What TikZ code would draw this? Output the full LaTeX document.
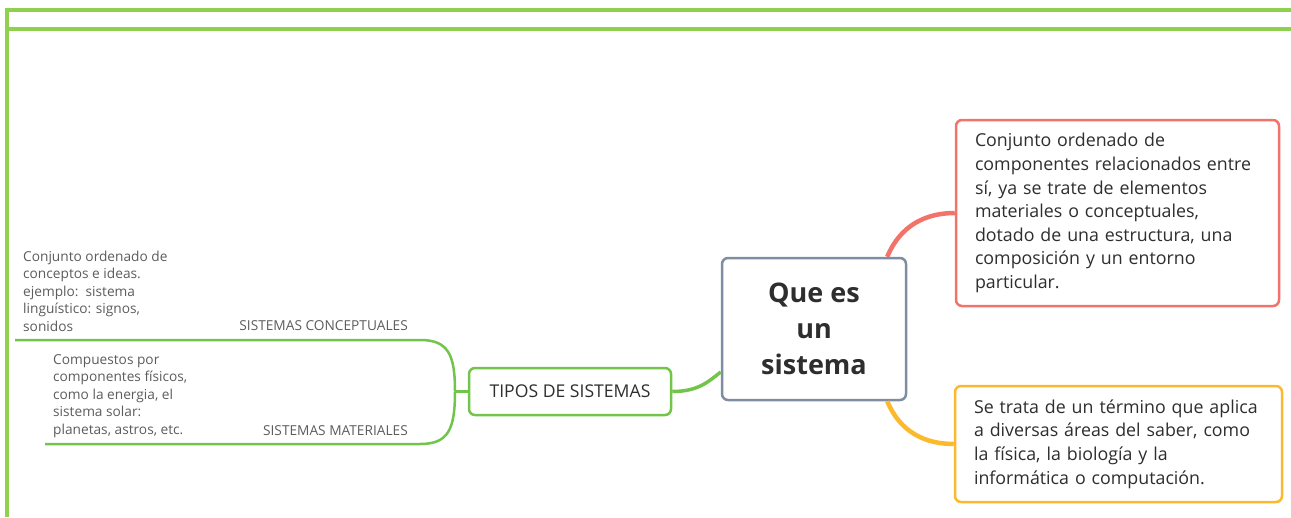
\documentclass[tikz,border=0pt]{standalone}
\usepackage{fontspec}
\setmainfont{Open Sans}
\definecolor{framegreen}{HTML}{8FD14F}
\definecolor{mapgreen}{HTML}{72C54A}
\definecolor{corered}{HTML}{F2736A}
\definecolor{coreorange}{HTML}{FDB92C}
\definecolor{coreblue}{HTML}{7F8DA3}
\definecolor{inkgray}{HTML}{2E2E2E}
\definecolor{notegray}{HTML}{5C5C5C}
\tikzset{
  topicbox/.style={draw, rounded corners=6pt, line width=2.5pt, fill=white, text=inkgray},
  notebox/.style={topicbox, align=left, inner xsep=19pt, font=\fontsize{17.8}{23.6}\selectfont},
  smalltext/.style={inner sep=0pt, text=notegray, align=left, font=\fontsize{13.7}{17.5}\selectfont},
  branch/.style={mapgreen, line width=2.5pt}
}
\begin{document}
\begin{tikzpicture}[x=1pt,y=-1pt]
    \useasboundingbox (0,0) rectangle (1291,517);
    \draw[framegreen, line width=3.5pt] (1291,10) -- (7,10) -- (7,517);
    \draw[framegreen, line width=3.5pt] (7,29) -- (1291,29);
    \node[topicbox, draw=coreblue, minimum width=184pt, minimum height=142pt, align=center,
        font=\fontsize{27}{36}\selectfont\bfseries] (sistema) at (814,329) {Que es\\un\\sistema};
    \node[notebox, draw=corered, text width=285pt, minimum height=186pt] (defin) at (1117.5,213)
        {Conjunto ordenado de\\componentes relacionados entre\\sí, ya se trate de elementos\\materiales o conceptuales,\\dotado de una estructura, una\\composición y un entorno\\particular.};
    \node[notebox, draw=coreorange, text width=289pt, minimum height=116pt] (areas) at (1118.5,444)
        {Se trata de un término que aplica\\a diversas áreas del saber, como\\la física, la biología y la\\informática o computación.};
    \node[topicbox, draw=mapgreen, minimum width=202pt, minimum height=47pt,
        font=\fontsize{17.6}{20}\selectfont] (tipos) at (570,391.5) {TIPOS DE SISTEMAS};
    \coordinate (fork) at (455,391.5);
    \coordinate (concEnd) at (15,340);
    \coordinate (matEnd) at (45,444);
    \draw[corered, line width=4.5pt] ([xshift=-20pt]sistema.north east) .. controls (900,226) and (925,213) .. (defin.west);
    \draw[coreorange, line width=4.5pt] ([xshift=-20pt]sistema.south east) .. controls (900,432) and (925,444) .. (areas.west);
    \draw[branch, line width=3.5pt] ([yshift=-43pt]sistema.west) .. controls (708,382) and (698,391.5) .. (tipos.east);
    \draw[branch] (tipos.west) -- (fork);
    \draw[branch] (fork) .. controls (455,354) and (448,340) .. (420,340) -- (concEnd);
    \draw[branch] (fork) .. controls (455,430) and (448,444) .. (420,444) -- (matEnd);
    \node[smalltext, anchor=east] (conc) at (408,326) {SISTEMAS CONCEPTUALES};
    \node[smalltext, anchor=east] (mat) at (408,431) {SISTEMAS MATERIALES};
    \node[smalltext, anchor=west] (concNote) at (23,291)
        {Conjunto ordenado de\\conceptos e ideas.\\ejemplo:\ \ sistema\\linguístico: signos,\\sonidos};
    \node[smalltext, anchor=west] (matNote) at (53,396)
        {Compuestos por\\componentes físicos,\\como la energia, el\\sistema solar:\\planetas, astros, etc.};
\end{tikzpicture}
\end{document}
